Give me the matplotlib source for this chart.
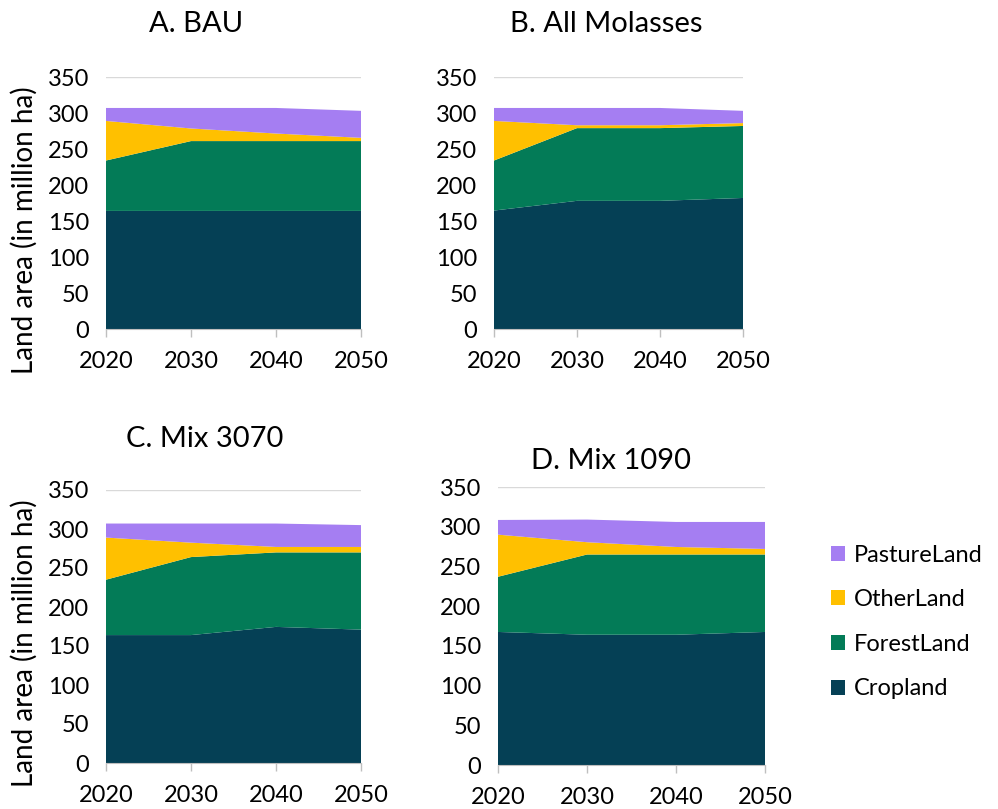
import matplotlib
matplotlib.use("Agg")
import matplotlib.pyplot as plt
from matplotlib.patches import Patch

plt.rcParams['font.family'] = ['Lato', 'DejaVu Sans']

years = [2020, 2030, 2040, 2050]
series_names = ["Cropland", "ForestLand", "OtherLand", "PastureLand"]
colors = ["#054055", "#037B57", "#FFC000", "#A57EF2"]

titles = ["A. BAU", "B. All Molasses", "C. Mix 3070", "D. Mix 1090"]

bau_crop = [164, 164, 164, 164]
bau_forest = [70, 97, 97, 97]
bau_other = [55, 17.5, 10.5, 4.5]
bau_pasture = [18, 28.5, 35.5, 37.5]

mol_crop = [164.5, 178, 178, 182]
mol_forest = [69.5, 101, 101, 100]
mol_other = [55, 4, 4, 4]
mol_pasture = [18, 24, 24, 17]

m37_crop = [164, 164, 174.5, 171]
m37_forest = [71, 100, 95.5, 99]
m37_other = [54, 18.5, 7, 7]
m37_pasture = [18, 24.5, 30, 28]

m19_crop = [167.5, 164, 164, 167.5]
m19_forest = [69.5, 101, 101, 97.5]
m19_other = [53, 15.5, 9.5, 7]
m19_pasture = [18.5, 28.5, 31.5, 34]

data = [
    [bau_crop, bau_forest, bau_other, bau_pasture],
    [mol_crop, mol_forest, mol_other, mol_pasture],
    [m37_crop, m37_forest, m37_other, m37_pasture],
    [m19_crop, m19_forest, m19_other, m19_pasture],
]

W, H = 998, 809
fig = plt.figure(figsize=(W / 100, H / 100), dpi=100)

# pixel boxes: left, right, top, bottom
boxes = [(106, 361, 77, 329), (494, 743, 77, 329),
         (106, 361, 490, 763), (498, 765, 487, 765)]
title_pos = [(196, 24), (606, 24), (205, 439), (611, 461)]
ylabel_pos = {0: (24, 230), 2: (24, 643)}

for i, (l, r, t, b) in enumerate(boxes):
    ax = fig.add_axes([l / W, 1 - b / H, (r - l) / W, (b - t) / H])
    ax.stackplot(years, *data[i], colors=colors, linewidth=0, zorder=2)
    ax.set_xlim(2020, 2050)
    ax.set_ylim(0, 350)
    ax.set_xticks(years)
    ax.set_yticks(range(0, 351, 50))
    ax.grid(axis='y', color='#D9D9D9', linewidth=1, zorder=0)
    ax.set_axisbelow(True)
    for s in ['top', 'right']:
        ax.spines[s].set_visible(False)
    ax.spines['left'].set_visible(False)
    ax.spines['bottom'].set_color('#BFBFBF')
    ax.tick_params(axis='y', length=0, labelsize=17, colors='#000000', pad=12)
    ax.tick_params(axis='x', length=6, width=1, color='#BFBFBF', direction='out',
                   labelsize=17, labelcolor='#000000', pad=10)
    tx, ty = title_pos[i]
    fig.text(tx / W, 1 - ty / H, titles[i], ha='center', va='center', fontsize=21)
    if i in ylabel_pos:
        lx, ly = ylabel_pos[i]
        fig.text(lx / W, 1 - ly / H, "Land area (in million ha)", rotation=90,
                 ha='center', va='center', fontsize=20)

handles = [Patch(facecolor=colors[k], edgecolor='none') for k in [3, 2, 1, 0]]
labels = [series_names[k] for k in [3, 2, 1, 0]]
fig.legend(handles, labels, loc='center left', bbox_to_anchor=(810 / W, 1 - 622 / H),
           frameon=False, fontsize=17, handlelength=0.6, handleheight=0.6,
           labelspacing=1.0, handletextpad=0.35)

fig.savefig("out.png", dpi=100)
